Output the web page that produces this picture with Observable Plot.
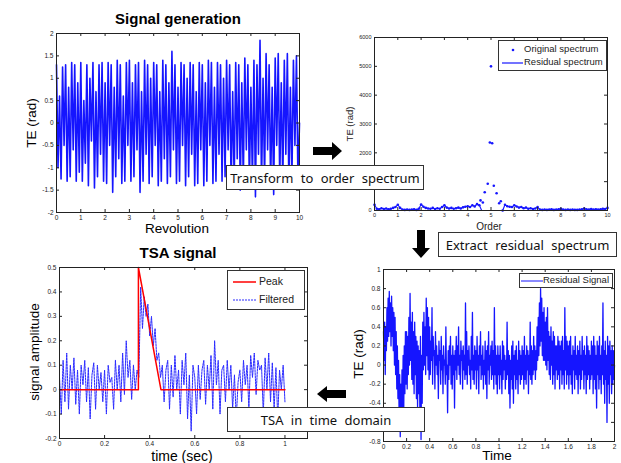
<!DOCTYPE html>
<html><head><meta charset="utf-8">
<script src="https://cdn.jsdelivr.net/npm/d3@7"></script>
<script src="https://cdn.jsdelivr.net/npm/@observablehq/plot@0.6"></script>
<style>
body{margin:0;background:#fff}
#root{position:relative;width:621px;height:463px;background:#fff;overflow:hidden;font-family:"Liberation Sans",Arial,sans-serif}
.abs{position:absolute;white-space:nowrap}
.c{transform:translate(-50%,-50%)}
.v{transform:translate(-50%,-50%) rotate(-90deg)}
.box{position:absolute;background:#fff;border:1px solid #333;box-sizing:border-box;font-family:"Noto Sans",sans-serif;font-size:13px;word-spacing:4px;color:#111;display:flex;align-items:center;justify-content:center}
.leg{position:absolute;background:#fff;border:1px solid #333;box-sizing:border-box}
</style>
</head><body>
<div id="root"></div>
<script>
// ---------- data ----------
// Panel 1: Signal generation (TE, rad) over 0..10 revolutions
const sigTE = [
1.3,-1.0,0.6,-1.25,1.25,-0.5,1.3,-1.3,0.8,-1.2,1.35,-0.6,1.3,-1.3,0.9,-1.1,
1.35,-1.3,0.5,-0.9,1.3,-1.4,1.0,-0.4,1.35,-1.45,0.7,-1.2,1.3,-0.7,1.35,-1.3,
0.9,-1.35,1.35,-0.5,1.3,-1.55,0.8,-1.2,1.4,-0.8,1.3,-1.35,0.6,-1.3,1.35,-0.5,
1.4,-1.3,0.9,-1.2,1.3,-0.6,1.35,-1.55,0.7,-1.3,1.4,-0.7,1.3,-1.35,1.0,-1.2,
1.35,-0.5,1.3,-1.4,0.7,-1.3,1.4,-0.8,1.3,-1.35,0.9,-1.2,1.6,-0.6,1.3,-1.35,
0.8,-1.3,1.35,-0.5,1.3,-1.4,1.0,-1.2,1.35,-0.7,1.3,-1.4,0.7,-1.35,1.35,-0.6,
1.3,-1.4,0.9,-1.3,1.4,-0.5,1.35,-1.35,0.8,-1.3,1.35,-0.7,1.3,-1.3,1.0,-1.2,
1.4,-0.6,1.3,-1.45,0.7,-1.3,1.35,-0.8,1.3,-1.5,0.9,-1.3,1.45,-0.6,1.3,-1.4,
0.8,-1.3,1.4,-1.65,1.3,-0.7,1.85,-1.4,1.0,-1.3,1.55,-0.6,1.3,-1.4,0.8,-1.6,
1.45,-0.5,1.55,-1.3,0.9,-1.35,1.4,-0.7,1.55,-1.4,0.8,-1.3,1.4,-0.5,1.5,-1.35,0.0
];
// Panel 2: order spectrum
const resOrder = d3.range(0, 101).map(i => i / 10);
const resTE = [
200,60,40,80,50,70,40,60,90,120,
200,90,30,20,30,20,30,40,20,60,
210,130,90,70,60,90,50,80,60,120,
180,100,70,90,60,80,100,70,110,130,
150,120,180,140,220,180,0,0,0,0,
0,0,0,0,0,0,200,150,130,120,
180,140,100,120,80,100,60,80,50,70,
120,30,20,30,20,30,40,20,30,40,
60,30,20,30,20,30,20,20,30,40,
70,40,30,50,30,40,30,40,60,50,
90];
const peakOrder = [4.55,4.65,4.73,4.86,4.95,5.0,5.05,5.12,5.24,5.35,5.42];
const peakTE    = [350,280,635,930,2360,5000,2330,860,600,250,320];
// Panel 3: TSA signal
const peakT = [0, 0.35, 0.35, 0.45, 1];
const peakA = [0, 0, 0.5, 0, 0];
const filtA = [
0.05,-0.1,0.12,-0.05,0.15,-0.08,0.1,0.0,0.13,-0.06,0.08,-0.1,0.1,0.02,0.12,-0.05,0.09,-0.12,0.06,0.11,-0.08,0.1,0.0,0.07,-0.05,
0.08,-0.1,0.1,0.03,0.05,-0.08,0.12,0.0,0.1,-0.05,0.15,-0.02,0.2,0.05,0.12,-0.04,0.1,0.0,0.08,0.05,0.42,0.25,0.38,0.3,0.35,
0.22,0.3,0.18,0.25,0.12,0.15,0.05,0.1,-0.05,0.08,0.12,-0.08,0.1,-0.03,0.14,0.0,0.08,-0.1,0.12,0.02,0.15,-0.12,0.06,-0.17,0.1,
0.05,-0.1,0.1,-0.04,0.08,0.12,-0.06,0.1,0.0,0.14,-0.08,0.2,0.02,0.12,-0.1,0.08,0.1,-0.05,0.12,0.0,0.1,-0.08,0.06,-0.12,0.03,
0.08,-0.05,0.12,0.02,0.1,-0.08,0.14,0.05,0.15,-0.02,0.12,0.08,0.1,-0.1,0.13,0.0,0.15,-0.05,0.11,-0.08,0.09,-0.12,0.08,0.0,0.1,
-0.05];
const filtT = d3.range(filtA.length).map(i => i / 125);
// Panel 4: residual signal (0..2 s)
const resSig = [
0.35,0.05,0.45,-0.1,0.4,0.15,0.6,0.25,0.7,0.3,0.77,0.35,0.65,0.2,0.72,0.3,0.6,0.15,0.55,0.0,0.5,-0.1,0.35,-0.25,0.2,-0.35,0.05,-0.5,-0.1,-0.75,-0.2,-0.6,-0.05,-0.45,0.1,-0.5,0.2,-0.3,0.35,-0.2,
0.35,-0.25,0.3,-0.1,0.5,0.0,0.75,0.05,0.45,-0.15,0.55,-0.2,0.35,-0.3,0.45,-0.1,0.3,-0.35,0.25,-0.45,0.2,-0.3,0.15,-0.5,0.3,-0.78,0.1,-0.4,0.45,-0.05,0.55,0.0,0.4,-0.1,0.7,0.1,0.6,-0.05,0.5,-0.15,
0.4,-0.1,0.25,0.05,0.6,-0.2,0.3,0.1,0.15,-0.25,0.35,0.0,0.2,-0.1,0.1,-0.35,0.25,0.05,0.15,-0.2,0.3,-0.05,0.1,-0.3,0.2,0.0,0.05,-0.2,0.4,-0.1,0.0,-0.5,0.15,-0.15,0.2,0.0,0.3,-0.2,0.1,-0.25,
0.2,-0.1,0.1,-0.45,0.15,-0.05,0.3,-0.15,0.2,0.0,0.4,-0.1,0.1,-0.2,0.25,0.05,0.15,-0.25,0.2,-0.05,0.1,-0.15,0.65,-0.1,0.35,-0.2,0.15,0.0,0.2,-0.1,0.05,-0.25,0.3,-0.05,0.55,-0.15,0.1,-0.2,0.2,-0.05,
0.15,-0.25,0.3,-0.05,0.1,-0.3,0.2,0.0,0.35,-0.15,0.1,-0.1,0.2,-0.25,0.05,-0.1,0.25,-0.2,0.15,-0.35,0.2,-0.05,0.35,-0.2,0.1,0.0,0.2,-0.15,0.25,-0.1,0.15,-0.25,0.6,-0.1,0.2,-0.2,0.1,-0.3,0.2,-0.1,
0.1,-0.25,0.2,-0.1,0.05,-0.3,0.25,-0.15,0.2,-0.05,0.1,-0.25,0.05,-0.15,0.45,-0.1,0.15,-0.3,0.1,-0.45,0.05,-0.15,0.2,-0.25,0.25,-0.4,0.1,-0.1,0.15,-0.25,0.2,-0.15,0.05,-0.3,0.25,-0.1,0.15,-0.2,0.1,-0.15,
0.2,-0.1,0.15,-0.25,0.3,-0.15,0.1,-0.2,0.2,-0.05,0.15,-0.3,0.1,-0.1,0.45,-0.15,0.2,-0.2,0.15,-0.1,0.3,-0.05,0.2,-0.15,0.15,-0.05,0.4,0.05,0.5,0.1,0.65,0.2,0.8,0.25,0.7,0.1,0.55,0.05,0.6,0.05,
0.45,0.0,0.5,-0.05,0.6,0.05,0.35,-0.1,0.3,-0.15,0.4,0.0,0.25,-0.2,0.35,-0.1,0.3,-0.25,0.2,-0.05,0.2,-0.15,0.3,-0.1,0.25,-0.25,0.2,-0.05,0.25,-0.2,0.3,-0.1,0.15,-0.25,0.6,-0.05,0.3,-0.2,0.25,-0.1,
0.2,-0.25,0.25,-0.1,0.3,-0.2,0.1,-0.3,0.2,-0.05,0.15,-0.25,0.3,-0.1,0.1,-0.15,0.2,-0.3,0.15,-0.1,0.25,-0.25,0.1,-0.15,0.3,-0.05,0.15,-0.25,0.2,-0.1,0.1,-0.3,0.3,-0.15,0.2,-0.1,0.15,-0.25,0.1,-0.15,
0.25,-0.1,0.2,-0.3,0.3,-0.15,0.2,-0.25,0.1,-0.45,0.25,-0.1,0.2,-0.25,0.3,-0.15,0.1,-0.3,0.2,-0.1,0.65,-0.2,0.15,-0.4,0.25,-0.15,0.1,-0.6,0.3,-0.2,0.2,-0.4,0.25,-0.1,0.15,-0.3,0.2,-0.2,0.15,-0.15,
0.0];
const resT = d3.range(resSig.length).map(i => i * 2 / (resSig.length - 1));
const sigRev = d3.range(sigTE.length).map(i => i * 10 / (sigTE.length - 1));

// tick values
const p1X = d3.range(0, 11), p1Y = [-2,-1.5,-1,-0.5,0,0.5,1,1.5,2];
const p2X = d3.range(0, 11), p2Y = [0,1000,2000,3000,4000,5000,6000];
const p3X = [0,0.2,0.4,0.6,0.8,1], p3Y = [-0.2,-0.1,0,0.1,0.2,0.3,0.4,0.5];
const p4X = [0,0.2,0.4,0.6,0.8,1,1.2,1.4,1.6,1.8,2], p4Y = [-0.8,-0.6,-0.4,-0.2,0,0.2,0.4,0.6,0.8,1];

// ---------- drawing ----------
const root = document.getElementById("root");
const fmt = d => String(+d.toFixed(2));

function panel(o) {
  const pw = o.width - o.ml - o.mr, ph = o.height - o.mt - o.mb;
  const svg = Plot.plot({
    width: o.width, height: o.height,
    marginLeft: o.ml, marginRight: o.mr, marginTop: o.mt, marginBottom: o.mb,
    x: {domain: o.xDomain}, y: {domain: o.yDomain},
    style: {fontSize: (o.fs || 6.5) + "px", fontFamily: "'Liberation Sans', Arial, sans-serif", background: "transparent", color: "#222", overflow: "visible"},
    marks: [
      ...o.marks,
      Plot.frame({stroke: "#222", strokeWidth: 1}),
      Plot.ruleX(o.xTicks, {insetTop: ph - 3, stroke: "#222"}),
      Plot.ruleX(o.xTicks, {insetBottom: ph - 3, stroke: "#222"}),
      Plot.ruleY(o.yTicks, {insetRight: pw - 3, stroke: "#222"}),
      Plot.ruleY(o.yTicks, {insetLeft: pw - 3, stroke: "#222"}),
      Plot.axisX({ticks: o.xTicks, tickSize: 0, tickPadding: 3, tickFormat: fmt, label: null}),
      Plot.axisY({ticks: o.yTicks, tickSize: 0, tickPadding: 3, tickFormat: fmt, label: null})
    ]
  });
  svg.style.position = "absolute";
  svg.style.left = o.left + "px";
  svg.style.top = o.top + "px";
  root.appendChild(svg);
}

// Panel 1
panel({left: 0, top: 25, width: 310, height: 205, ml: 56, mr: 11, mt: 8, mb: 18,
  xDomain: [0, 10], yDomain: [-2, 2], xTicks: p1X, yTicks: p1Y,
  marks: [Plot.line(sigTE, {x: (d, i) => sigRev[i], y: d => d, stroke: "#1515ff", strokeWidth: 1.6})]});

// Panel 2
const dots = resTE.map((v, i) => ({o: resOrder[i], v})).filter(d => d.o < 4.55 || d.o > 5.45)
  .concat(peakTE.map((v, i) => ({o: peakOrder[i], v})));
panel({left: 330, top: 30, width: 291, height: 190, ml: 44, mr: 14, mt: 7, mb: 10, fs: 5.5,
  xDomain: [0, 10], yDomain: [0, 6000], xTicks: p2X, yTicks: p2Y,
  marks: [
    Plot.line(resTE, {x: (d, i) => resOrder[i], y: d => d, stroke: "#1515ff", strokeWidth: 1.1}),
    Plot.dot(dots, {x: "o", y: "v", r: 1.3, fill: "#1515ff"})
  ]});

// Panel 3
panel({left: 0, top: 260, width: 320, height: 190, ml: 59, mr: 13, mt: 7, mb: 12,
  xDomain: [0, 1.1], yDomain: [-0.2, 0.5], xTicks: p3X, yTicks: p3Y,
  marks: [
    Plot.line(filtA, {x: (d, i) => filtT[i], y: d => d, stroke: "#2a2aff", strokeWidth: 1, strokeDasharray: "2,1"}),
    Plot.line(peakA, {x: (d, i) => peakT[i], y: d => d, stroke: "#ff0000", strokeWidth: 1.5})
  ]});

// Panel 4
panel({left: 330, top: 262, width: 291, height: 190, ml: 53, mr: 7, mt: 7, mb: 11,
  xDomain: [0, 2], yDomain: [-0.8, 1], xTicks: p4X, yTicks: p4Y,
  marks: [Plot.line(resSig, {x: (d, i) => resT[i], y: d => d, stroke: "#1515ff", strokeWidth: 1.3})]});

// ---------- text, legends, boxes, arrows ----------
function txt(s, x, y, css, cls = "c") {
  const d = document.createElement("div");
  d.className = "abs " + cls;
  d.textContent = s;
  d.style.left = x + "px"; d.style.top = y + "px";
  d.style.cssText += css;
  root.appendChild(d);
  return d;
}
function html(h) { const w = document.createElement("div"); w.innerHTML = h; root.appendChild(w.firstElementChild); }

txt("Signal generation", 178, 18, "font-weight:bold;font-size:15px;color:#000");
txt("TE (rad)", 31, 123, "font-size:13.5px;color:#000", "v");
txt("Revolution", 177, 228, "font-size:13.5px;color:#000");

txt("TE (rad)", 349, 124, "font-size:9.5px;color:#222", "v");
txt("Order", 489, 226, "font-size:10px;color:#222");

txt("TSA signal", 178, 252, "font-weight:bold;font-size:15px;color:#000");
txt("signal amplitude", 34, 352, "font-size:13.5px;color:#000", "v");
txt("time (sec)", 182, 456, "font-size:14px;color:#000");

txt("TE (rad)", 358, 354, "font-size:13.5px;color:#000", "v");
txt("Time", 497, 455, "font-size:13.5px;color:#000");

// legends
html(`<div class="leg" style="left:498px;top:40px;width:109px;height:31px;font-size:9.5px;color:#222">
<svg width="107" height="29" style="position:absolute;left:0;top:0"><circle cx="14" cy="9" r="1.3" fill="#1515ff"/><line x1="3" y1="22" x2="24" y2="22" stroke="#1515ff" stroke-width="1.2"/></svg>
<div class="abs" style="left:25px;top:2px">Original spectrum</div><div class="abs" style="left:25px;top:15px">Residual spectrum</div></div>`);
html(`<div class="leg" style="left:227px;top:270px;width:78px;height:40px;font-size:10.5px;color:#222">
<svg width="76" height="38" style="position:absolute;left:0;top:0"><line x1="5" y1="11" x2="28" y2="11" stroke="#f00" stroke-width="1.5"/><line x1="5" y1="29" x2="28" y2="29" stroke="#2a2aff" stroke-width="1" stroke-dasharray="2,1"/></svg>
<div class="abs" style="left:31px;top:4px">Peak</div><div class="abs" style="left:31px;top:22px">Filtered</div></div>`);
html(`<div class="leg" style="left:519px;top:273px;width:94px;height:15px;font-size:9.5px;color:#222">
<svg width="92" height="13" style="position:absolute;left:0;top:0"><line x1="1" y1="7" x2="23" y2="7" stroke="#1515ff" stroke-width="1"/></svg>
<div class="abs" style="left:23px;top:0px">Residual Signal</div></div>`);

// process boxes
html(`<div class="box" style="left:226px;top:165px;width:198px;height:25px">Transform to order spectrum</div>`);
html(`<div class="box" style="left:438px;top:232px;width:179px;height:25px">Extract residual spectrum</div>`);
html(`<div class="box" style="left:227px;top:407px;width:198px;height:25px">TSA in time domain</div>`);

// arrows
html(`<svg class="abs" style="left:313px;top:142px" width="30" height="19"><polygon points="0,5 19,5 19,0 29,9 19,18 19,13 0,13" fill="#000"/></svg>`);
html(`<svg class="abs" style="left:412px;top:230px" width="19" height="29"><polygon points="5,0 13,0 13,18 18,18 9,28 0,18 5,18" fill="#000"/></svg>`);
html(`<svg class="abs" style="left:317px;top:386px" width="30" height="17"><polygon points="0,8 10,0 10,4 29,4 29,12 10,12 10,16" fill="#000"/></svg>`);
</script>
</body></html>
